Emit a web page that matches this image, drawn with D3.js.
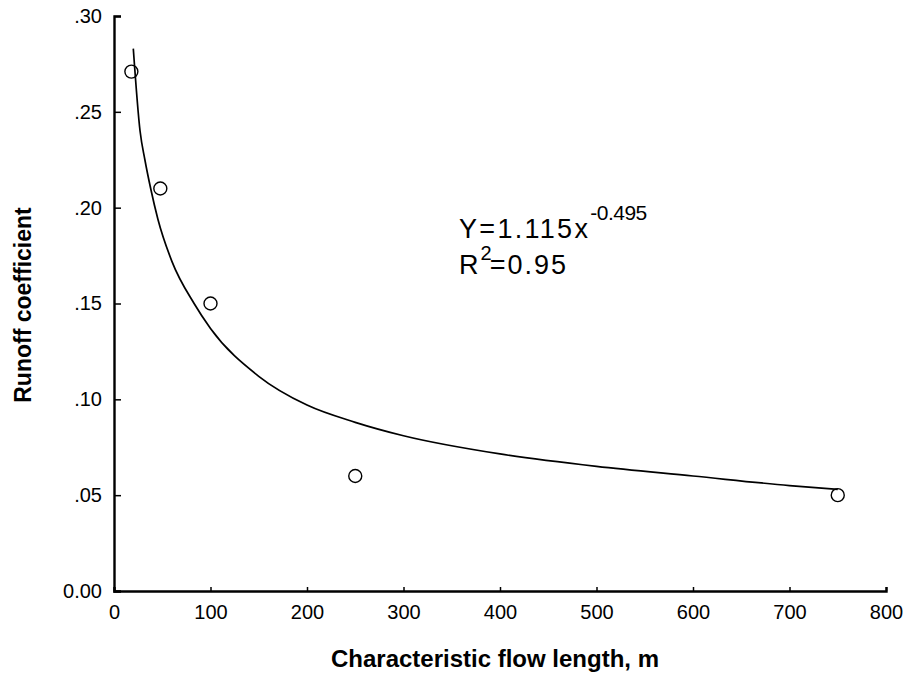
<!DOCTYPE html>
<html><head><meta charset="utf-8">
<script src="https://cdn.jsdelivr.net/npm/d3@7"></script>
<style>body{margin:0;background:#fff}svg{display:block}text{font-family:"Liberation Sans",Arial,sans-serif;fill:#000}</style>
</head><body><div id="chart"></div>
<script>
const xTicks = [0,100,200,300,400,500,600,700,800];
const yTicks = [0,0.05,0.10,0.15,0.20,0.25,0.30];
const yTickLabels = ["0.00",".05",".10",".15",".20",".25",".30"];
const obsX = [18, 48, 100, 250, 750];
const obsY = [0.271, 0.210, 0.150, 0.060, 0.050];
// fitted curve
const fitX = [20, 27, 32, 38, 45.5, 60, 83, 100, 150, 200, 250, 300, 400, 500, 600, 700, 750];
const fitY = [0.283, 0.240, 0.225, 0.210, 0.194, 0.172, 0.150, 0.137, 0.112, 0.097, 0.088, 0.081, 0.0715, 0.065, 0.060, 0.055, 0.053];

const W=908,H=684;
const svg=d3.select("#chart").append("svg").attr("width",W).attr("height",H);
const x=d3.scaleLinear().domain([0,800]).range([114,886]);
const y=d3.scaleLinear().domain([0,0.30]).range([591,16]);

// axes
const xAxis=d3.axisBottom(x).tickValues(xTicks).tickSize(-4).tickPadding(14).tickFormat(d3.format("d"));
const gx=svg.append("g").attr("transform","translate(0,591)").call(xAxis);
gx.select(".domain").attr("stroke","#000").attr("stroke-width",2.4);
gx.selectAll(".tick line").attr("stroke","#000").attr("stroke-width",1.5);
gx.selectAll("text").attr("font-size",20).attr("dy","0.71em");

const yAxis=d3.axisLeft(y).tickValues(yTicks).tickSize(-7).tickPadding(12).tickFormat((d,i)=>yTickLabels[i]);
const gy=svg.append("g").attr("transform","translate(114,0)").call(yAxis);
gy.select(".domain").attr("stroke","#000").attr("stroke-width",2.4);
gy.selectAll(".tick line").attr("stroke","#000").attr("stroke-width",1.5);
gy.selectAll("text").attr("font-size",20);

// fitted curve
const fit=fitX.map((v,i)=>[v,fitY[i]]);
svg.append("path").datum(fit).attr("fill","none").attr("stroke","#000").attr("stroke-width",1.7)
  .attr("d",d3.line().x(d=>x(d[0])).y(d=>y(d[1])).curve(d3.curveMonotoneX));

// observations
svg.selectAll("circle.obs").data(obsX.map((v,i)=>[v,obsY[i]])).enter().append("circle")
  .attr("class","obs").attr("cx",d=>x(d[0])).attr("cy",d=>y(d[1])).attr("r",6.5)
  .attr("fill","none").attr("stroke","#000").attr("stroke-width",1.4);

// equation
const eq=svg.append("text").attr("x",459).attr("y",238).attr("font-size",27).attr("letter-spacing",2.3);
eq.append("tspan").text("Y=1.115x");
eq.append("tspan").attr("font-size",21).attr("dy",-18).attr("letter-spacing",-0.5).text("-0.495");
const r2=svg.append("text").attr("x",459).attr("y",274).attr("font-size",27).attr("letter-spacing",2);
r2.append("tspan").text("R");
r2.append("tspan").attr("font-size",20).attr("dy",-14).attr("letter-spacing",-2).text("2");
r2.append("tspan").attr("dy",14).text("=0.95");

// axis titles
svg.append("text").attr("x",495).attr("y",667).attr("text-anchor","middle").attr("font-size",24).attr("font-weight","bold")
  .text("Characteristic flow length, m");
svg.append("text").attr("transform","translate(31,305) rotate(-90)").attr("text-anchor","middle").attr("font-size",23).attr("font-weight","bold")
  .text("Runoff coefficient");
</script></body></html>
